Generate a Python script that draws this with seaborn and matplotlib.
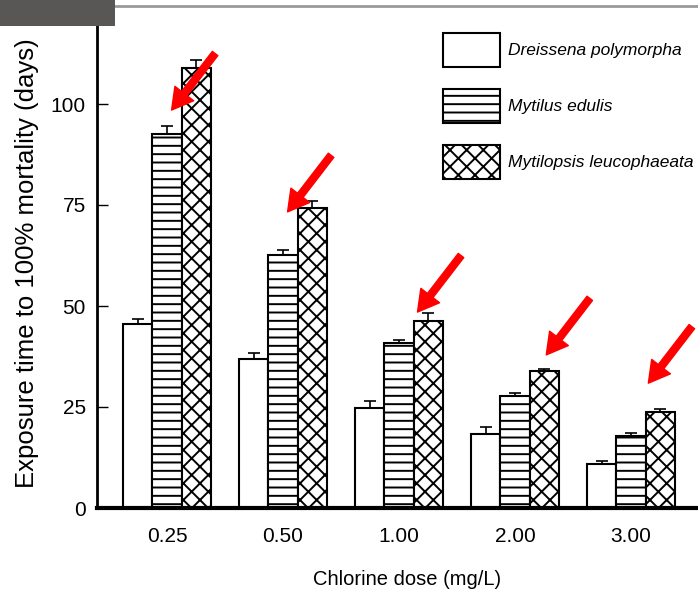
import pandas as pd
import matplotlib.pyplot as plt
import seaborn as sns
from matplotlib.patches import Patch, Rectangle
from matplotlib.lines import Line2D

doses = ['0.25', '0.50', '1.00', '2.00', '3.00']
species = ['Dreissena polymorpha', 'Mytilus edulis', 'Mytilopsis leucophaeata']

dreissena = [45.5, 36.9, 24.8, 18.3, 10.8]
dreissena_err = [1.4, 1.5, 1.6, 1.7, 0.9]
mytilus = [92.6, 62.6, 40.8, 27.7, 17.8]
mytilus_err = [2.0, 1.2, 0.8, 0.8, 0.8]
mytilopsis = [108.8, 74.3, 46.3, 33.9, 23.7]
mytilopsis_err = [2.0, 1.7, 2.0, 0.6, 0.9]

# red arrows added on the scanned figure (tip positions)
arrow_x = [0.04, 1.04, 2.16, 3.27, 4.15]
arrow_y = [98.5, 73.3, 48.5, 37.9, 30.9]

df = pd.DataFrame({
    'dose': doses * 3,
    'species': [s for s in species for _ in doses],
    'days': dreissena + mytilus + mytilopsis,
})
errs = [dreissena_err, mytilus_err, mytilopsis_err]
hatches = ['', '--', 'xx']

sns.set_style('ticks')
plt.rcParams['font.family'] = ['Liberation Sans', 'DejaVu Sans']
plt.rcParams['hatch.linewidth'] = 1.4
for k in ['text.color', 'axes.labelcolor', 'xtick.color', 'ytick.color', 'axes.edgecolor']:
    plt.rcParams[k] = 'black'

W, H = 698, 599
fig = plt.figure(figsize=(W / 100, H / 100), dpi=100)
ax = fig.add_axes([97 / W, (H - 508) / H, 1 - 97 / W, 505 / H])

sns.barplot(data=df, x='dose', y='days', hue='species',
            palette={s: 'white' for s in species}, edgecolor='black',
            linewidth=1.5, width=0.76, errorbar=None, legend=False, ax=ax)

for cont, h, e in zip(ax.containers, hatches, errs):
    for bar, err in zip(cont, e):
        bar.set_hatch(h)
        xc = bar.get_x() + bar.get_width() / 2
        ax.errorbar(xc, bar.get_height(), yerr=[[0], [err]], fmt='none',
                    ecolor='black', elinewidth=1.2, capsize=4, capthick=1.2)

for xa, ya in zip(arrow_x, arrow_y):
    ax.annotate('', xy=(xa, ya), xytext=(xa + 0.375, ya + 14),
                arrowprops=dict(facecolor='red', edgecolor='red', width=5,
                                headwidth=17, headlength=15, shrink=0),
                annotation_clip=False)

ax.set_xlim(-0.603, 4.578)
ax.set_ylim(0, 125)
ax.set_yticks([0, 25, 50, 75, 100])
ax.tick_params(axis='y', direction='in', length=8, width=1, labelsize=15, pad=8)
ax.tick_params(axis='x', length=0, labelsize=15, pad=14)
ax.set_xlabel('Chlorine dose (mg/L)', fontsize=14.5)
ax.xaxis.set_label_coords(0.516, -0.123)
ax.set_ylabel('Exposure time to 100% mortality (days)', fontsize=18.5)
ax.yaxis.set_label_coords(-0.097, 0.485)

sns.despine(ax=ax, top=True, right=True)
ax.spines['bottom'].set_linewidth(3)
ax.spines['left'].set_linewidth(2)

handles = [Patch(facecolor='white', edgecolor='black', hatch=h, linewidth=1.5) for h in hatches]
fig.legend(handles, species, loc='upper left', bbox_to_anchor=(443 / W, 1 - 33 / H),
           frameon=False, prop={'style': 'italic', 'size': 12.5}, handlelength=3.28,
           handleheight=2.63, labelspacing=1.26, handletextpad=0.45,
           borderpad=0, borderaxespad=0)

# scan artefacts: dark box top-left and page border line
fig.add_artist(Rectangle((0, 1 - 26 / H), 115 / W, 26 / H, transform=fig.transFigure,
                         facecolor='#595756', edgecolor='none', zorder=10))
fig.add_artist(Line2D([115 / W, 1], [1 - 6 / H] * 2, transform=fig.transFigure,
                      color='#9a9a9a', linewidth=2))

fig.savefig('out.png', dpi=100)
